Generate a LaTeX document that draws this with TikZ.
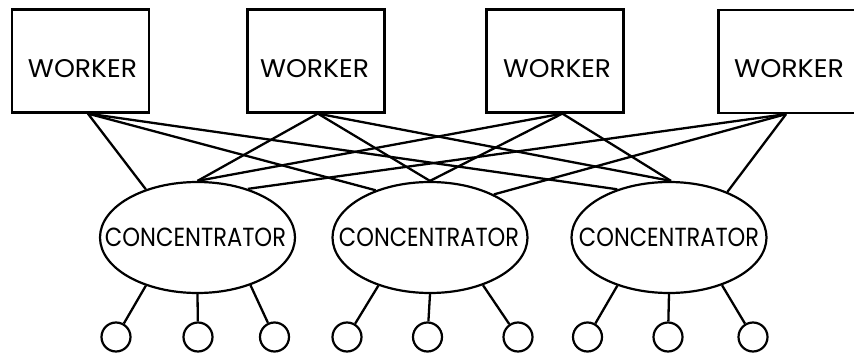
\documentclass[tikz,border=0pt]{standalone}
\usepackage{fontspec}
\setmainfont{Poppins}
\usetikzlibrary{shapes.geometric}
\begin{document}
\begin{tikzpicture}[x=1pt,y=-1pt,line width=2.2pt,
  worker/.style={draw,rectangle,minimum width=137pt,minimum height=103pt,inner sep=0pt},
  conc/.style={draw,ellipse,minimum width=195pt,minimum height=111pt,inner sep=0pt},
  term/.style={draw,circle,minimum size=29pt,inner sep=0pt},
  wlbl/.style={inner sep=0pt},
  link/.style={line width=2.3pt}]
\useasboundingbox (0,0) rectangle (854,353);
% workers
\node[worker] (w1) at (80.5,61) {};
\node[worker] (w2) at (316,61) {};
\node[worker] (w3) at (555,61) {};
\node[worker] (w4) at (787,61.5) {};
\node[wlbl] (w1t) at (82.5,69) {\resizebox{109pt}{18pt}{WORKER}};
\node[wlbl] (w2t) at (314.5,69) {\resizebox{109pt}{18pt}{WORKER}};
\node[wlbl] (w3t) at (557,69) {\resizebox{108pt}{18pt}{WORKER}};
\node[wlbl] (w4t) at (789,69) {\resizebox{110pt}{18pt}{WORKER}};
% concentrators
\node[conc] (c1) at (197.5,237.5) {};
\node[conc] (c2) at (430,237.5) {};
\node[conc] (c3) at (669,237.5) {};
\node[wlbl] (c1t) at (195.5,237.5) {\resizebox{181pt}{18.5pt}{CONCENTRATOR}};
\node[wlbl] (c2t) at (429,237.5) {\resizebox{180pt}{18.5pt}{CONCENTRATOR}};
\node[wlbl] (c3t) at (669,237.5) {\resizebox{180pt}{18.5pt}{CONCENTRATOR}};
% terminals
\node[term] (t1) at (116,337) {};
\node[term] (t2) at (198,337) {};
\node[term] (t3) at (274.5,337) {};
\node[term] (t4) at (347,337) {};
\node[term] (t5) at (427.5,337) {};
\node[term] (t6) at (518,337) {};
\node[term] (t7) at (587.5,337) {};
\node[term] (t8) at (668,337) {};
\node[term] (t9) at (753,337) {};
% worker-concentrator links
\draw[link] (w1.-82) -- (c1.137);
\draw[link] (w1.-82) -- (c2.139);
\draw[link] (w1.-82) -- (c3.137);
\draw[link] (w2.-88) -- (c1.90);
\draw[link] (w2.-88) -- (c2.90);
\draw[link] (w2.-88) -- (c3.88);
\draw[link] (w3.-82) -- (c1.90);
\draw[link] (w3.-82) -- (c2.90);
\draw[link] (w3.-82) -- (c3.88);
\draw[link] (w4.-91) -- (c1.44);
\draw[link] (w4.-91) -- (c2.34);
\draw[link] (w4.-91) -- (c3.38);
% concentrator-terminal links
\draw[link] (c1.223) -- (t1);
\draw[link] (c1.270) -- (t2);
\draw[link] (c1.318) -- (t3);
\draw[link] (c2.223) -- (t4);
\draw[link] (c2.270) -- (t5);
\draw[link] (c2.318) -- (t6);
\draw[link] (c3.223) -- (t7);
\draw[link] (c3.270) -- (t8);
\draw[link] (c3.318) -- (t9);
\end{tikzpicture}
\end{document}
